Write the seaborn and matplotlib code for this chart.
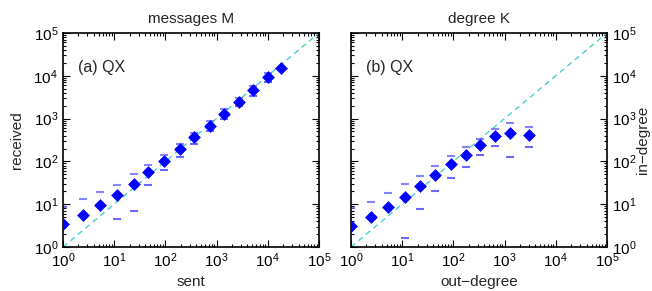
import numpy as np
import pandas as pd
import seaborn as sns
import matplotlib.pyplot as plt
from matplotlib.ticker import LogLocator, NullFormatter

# painel (a): mensagens enviadas x recebidas
sent = [1, 2.5, 5.4, 11.3, 24, 46, 94, 190, 367, 745, 1400, 2770, 5200, 10000, 17800]
received = [3.4, 5.5, 9.4, 16.4, 29.6, 55.6, 100, 192, 372, 683, 1300, 2470, 4580, 9230, 15500]
received_hi = [8.8, 13.2, 19.3, 28.6, 51.7, 82, 139, 255, 455, 878, 1650, 2970, 5770, 11400, np.nan]
received_lo = [np.nan, np.nan, np.nan, 4.5, 6.9, 27.8, 63, 129, 256, 504, 1000, 1960, 3380, 7160, np.nan]

# painel (b): out-degree x in-degree
out_degree = [1, 2.43, 5.4, 11.2, 22.4, 44.7, 89, 174, 338, 650, 1250, 2980]
in_degree = [3.05, 4.9, 8.6, 15, 27, 48, 86, 144, 242, 393, 468, 420]
in_degree_hi = [8.1, 11.2, 18.5, 29.7, 46.4, 77, 134, 220, 339, 580, 800, 627]
in_degree_lo = [np.nan, np.nan, np.nan, 1.65, 7.6, 20.7, 41, 75, 144, 229, 124, 214]

diagonal = [1, 1e5]

sns.set_theme(style='ticks')
plt.rcParams['font.family'] = ['Liberation Sans', 'DejaVu Sans']
plt.rcParams['mathtext.fontset'] = 'custom'
plt.rcParams['mathtext.rm'] = 'Liberation Sans'

fig = plt.figure(figsize=(6.52, 2.91), dpi=100)
ax1 = fig.add_axes([0.0966, 0.1512, 0.3926, 0.7354])
ax2 = fig.add_axes([0.5383, 0.1512, 0.3926, 0.7354])

paineis = [
    (ax1, sent, received, received_hi, received_lo, 'messages M', '(a) QX', 'sent', 'received'),
    (ax2, out_degree, in_degree, in_degree_hi, in_degree_lo, 'degree K', '(b) QX', 'out\u2212degree', 'in\u2212degree'),
]

for ax, x, y, hi, lo, titulo, rotulo, xl, yl in paineis:
    df = pd.DataFrame({'x': x, 'y': y, 'hi': hi, 'lo': lo})

    # linha y = x
    sns.lineplot(x=diagonal, y=diagonal, ax=ax, color='#48d1cc', lw=1,
                 linestyle=(0, (4, 3)), zorder=1)

    # limites (percentis) como tracinhos horizontais
    sns.scatterplot(data=df, x='x', y='hi', ax=ax, marker='_', s=35, linewidth=1.5,
                    color='#6666ff', alpha=0.8, zorder=2)
    sns.scatterplot(data=df, x='x', y='lo', ax=ax, marker='_', s=35, linewidth=1.5,
                    color='#4444ff', alpha=0.8, zorder=2)

    # médias
    sns.scatterplot(data=df, x='x', y='y', ax=ax, marker='D', s=36, color='#0000ff',
                    edgecolor='#0000ff', linewidth=0.5, zorder=3)

    ax.set_xscale('log')
    ax.set_yscale('log')
    ax.set_xlim(1, 1e5)
    ax.set_ylim(1, 1e5)
    ax.xaxis.set_major_locator(LogLocator(base=10, numticks=10))
    ax.yaxis.set_major_locator(LogLocator(base=10, numticks=10))
    ax.xaxis.set_minor_locator(LogLocator(base=10, subs=np.arange(2, 10), numticks=20))
    ax.yaxis.set_minor_locator(LogLocator(base=10, subs=np.arange(2, 10), numticks=20))
    ax.xaxis.set_minor_formatter(NullFormatter())
    ax.yaxis.set_minor_formatter(NullFormatter())
    ax.tick_params(which='both', direction='in', top=True, right=True, left=True, bottom=True,
                   colors='black', labelsize=11, width=0.8)
    ax.tick_params(which='major', length=5)
    ax.tick_params(which='minor', length=2.5)
    for s in ax.spines.values():
        s.set_color('black')
        s.set_linewidth(1.2)

    ax.set_title(titulo, fontsize=11, pad=7)
    ax.text(0.06, 0.82, rotulo, transform=ax.transAxes, fontsize=11.5)
    ax.set_xlabel(xl, fontsize=11, labelpad=3)
    ax.set_ylabel(yl, fontsize=11, labelpad=7)

ax2.tick_params(axis='y', which='both', labelleft=False, labelright=True)
ax2.yaxis.set_label_position('right')
ax2.set_ylabel('in\u2212degree', fontsize=11, labelpad=0)

plt.savefig('out.png', dpi=100)
